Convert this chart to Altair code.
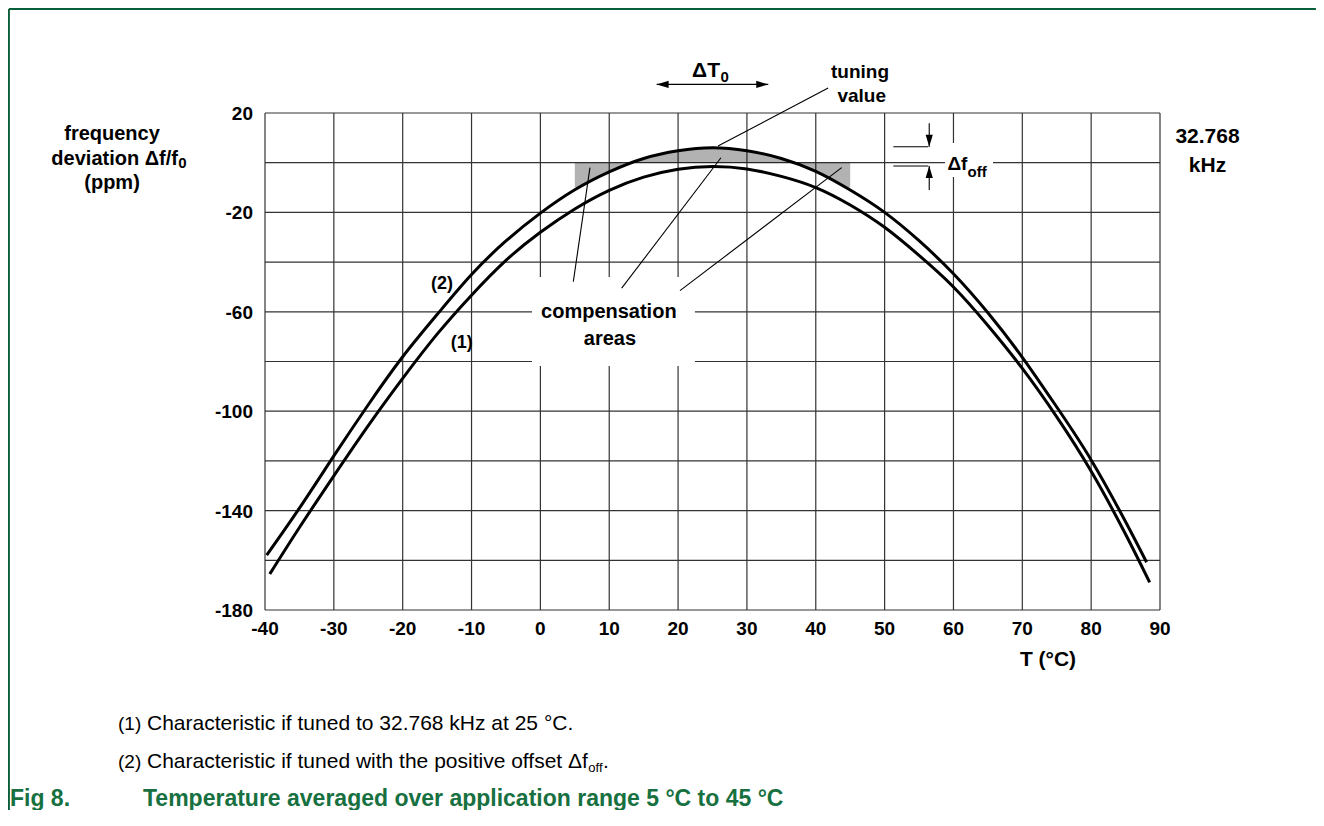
import altair as alt
import pandas as pd

# ---------------- data ----------------
# (1) characteristic if tuned to 32.768 kHz at 25 degC
temp_1 = [-39.3, -35, -30, -25, -20, -15, -10, -5, 0, 5, 10, 15, 20, 25, 30,
          35, 40, 45, 50, 55, 60, 65, 70, 75, 80, 85, 88.5]
dev_1 = [-165.5, -146.8, -126.0, -105.8, -86.8, -69.0, -53.3, -39.3, -28.0,
         -18.6, -11.1, -5.8, -2.6, -1.5, -2.5, -5.5, -10.0, -17.0, -26.0,
         -37.3, -50.0, -65.5, -82.8, -102.3, -124.2, -149.5, -168.9]
# (2) characteristic if tuned with the positive offset
temp_2 = [-39.75, -35, -30, -25, -20, -15, -10, -5, 0, 5, 10, 15, 20, 25, 30,
          35, 40, 45, 50, 55, 60, 65, 70, 75, 80, 85, 88.05]
dev_2 = [-157.9, -139.0, -118.0, -97.4, -78.1, -61.1, -45.0, -31.5, -20.3,
         -10.9, -3.7, 1.7, 4.8, 6.0, 4.8, 1.7, -3.5, -11.0, -20.0, -31.4,
         -44.7, -60.4, -78.3, -98.3, -119.6, -144.5, -160.8]
# compensation areas (grey)
gray_T = [5, 5.5, 8, 10, 13, 15, 20, 25, 30, 35, 37, 40, 42, 44.5, 45]
gray_lo = [-10, -10, -6.1, -3.7, 0, 0, 0, 0, 0, 0, 0, -3.5, -6.0, -10, -10]
gray_hi = [0, 0, 0, 0, 0, 1.7, 4.8, 6.0, 4.8, 1.7, 0, 0, 0, 0, 0]

x_ticks = list(range(-40, 91, 10))
y_grid = list(range(-180, 21, 20))
y_labels = [20, -20, -60, -100, -140, -180]

# ---------------- annotation placement (data units) ----------------
seg_T1 = [4.78, 11.81, 20.28, 41.8, 16.89, 51.26, 51.26, 56.48, 56.48]
seg_v1 = [-47.9, -50.5, -51.5, 30.1, 31.5, 6.44, -1.33, 15.85, -11.0]
seg_T2 = [7.2, 26.23, 43.76, 25.8, 33.1, 56.35, 56.35, 56.48, 56.48]
seg_v2 = [-2.0, 2.0, -2.0, 6.7, 31.5, 6.44, -1.33, 6.44, -1.33]

box_T1 = [-1.22, 58.77]
box_T2 = [22.45, 65.74]
box_v1 = [-46.0, 7.9]
box_v2 = [-81.8, -5.8]

FONT = "Liberation Sans, Arial, sans-serif"
xs = alt.Scale(domain=[-40, 90], nice=False, zero=False)
ys = alt.Scale(domain=[-180, 20], nice=False, zero=False)
GRID = "#333333"


def X(field="T"):
    return alt.X(f"{field}:Q", scale=xs, axis=None)


def Y(field="v"):
    return alt.Y(f"{field}:Q", scale=ys, axis=None)


# grid
grid_x = alt.Chart(pd.DataFrame({"T": x_ticks, "lo": -180, "hi": 20})).mark_rule(
    color=GRID, strokeWidth=1.2
).encode(x=X(), y=Y("lo"), y2="hi:Q")
grid_y = alt.Chart(pd.DataFrame({"v": y_grid, "lo": -40, "hi": 90})).mark_rule(
    color=GRID, strokeWidth=1.2
).encode(y=Y(), x=X("lo"), x2="hi:Q")

# tick labels
xlab = alt.Chart(pd.DataFrame({"T": x_ticks, "v": -180,
                               "label": [str(t) for t in x_ticks]})).mark_text(
    font=FONT, fontSize=19, fontWeight="bold", align="center",
    baseline="alphabetic", dy=25, color="black"
).encode(x=X(), y=Y(), text="label:N")
ylab = alt.Chart(pd.DataFrame({"T": -40, "v": y_labels,
                               "label": [str(v) for v in y_labels]})).mark_text(
    font=FONT, fontSize=19, fontWeight="bold", align="right",
    baseline="alphabetic", dx=-12, dy=7, color="black"
).encode(x=X(), y=Y(), text="label:N")

curves = pd.DataFrame({
    "T": temp_1 + temp_2,
    "v": dev_1 + dev_2,
    "curve": ["1"] * len(temp_1) + ["2"] * len(temp_2),
})
lines = alt.Chart(curves).mark_line(
    interpolate="natural", strokeWidth=3, color="black"
).encode(x=X(), y=Y(), detail="curve:N")

gray = alt.Chart(pd.DataFrame({"T": gray_T, "v": gray_lo, "v2": gray_hi})).mark_area(
    interpolate="monotone", color="black", fillOpacity=0.3
).encode(x=X(), y=Y(), y2="v2:Q")

boxes = alt.Chart(pd.DataFrame({"T": box_T1, "T2": box_T2, "v": box_v1, "v2": box_v2})).mark_rect(
    color="white"
).encode(x=X(), x2="T2:Q", y=Y(), y2="v2:Q")

segs = alt.Chart(pd.DataFrame({"T": seg_T1, "T2": seg_T2, "v": seg_v1, "v2": seg_v2})).mark_rule(
    color="black", strokeWidth=1.1
).encode(x=X(), x2="T2:Q", y=Y(), y2="v2:Q")


def head(T, v, path):
    return alt.Chart(pd.DataFrame({"T": [T], "v": [v]})).mark_point(
        shape=path, size=144, filled=True, color="black", opacity=1, strokeWidth=0
    ).encode(x=X(), y=Y())


heads = [
    head(17.76, 31.5, "M -1 0 L 1 -0.6 L 1 0.6 Z"),
    head(32.23, 31.5, "M 1 0 L -1 -0.6 L -1 0.6 Z"),
    head(56.48, 8.85, "M 0 1 L -0.6 -1 L 0.6 -1 Z"),
    head(56.48, -3.74, "M 0 -1 L -0.6 1 L 0.6 1 Z"),
]


def txt(labels, Ts, vs, size, weight="bold", align="center", color="black"):
    df = pd.DataFrame({"label": labels, "T": Ts, "v": vs})
    return alt.Chart(df).mark_text(
        font=FONT, fontSize=size, fontWeight=weight, align=align,
        baseline="alphabetic", color=color
    ).encode(x=X(), y=Y(), text="label:N")


texts = [
    txt(["tuning", "value"], [46.42, 46.67], [33.96, 24.3], 19),
    txt(["32.768", "kHz"], [96.9, 96.9], [7.8, -3.6], 21),
    txt(["frequency", "(ppm)"], [-62.22, -62.22], [9.1, -10.6], 20),
    txt(["T (°C)"], [73.73], [-202.6], 21),
    txt(["compensation", "areas"], [9.94, 10.1], [-62.6, -73.4], 20),
    txt(["(2)", "(1)"], [-14.29, -11.43], [-50.8, -74.6], 18),
    txt(["deviation Δf/f"], [-52.64], [-0.9], 20, align="right"),
    txt(["ΔT"], [26.09], [34.6], 21, align="right"),
    txt(["Δf"], [62.03], [-2.9], 19, align="right"),
    txt(["0", "0", "off"], [-52.6, 26.16, 62.05], [-2.3, 32.6, -5.6], 15,
        align="left"),
    txt(["(1)", "(2)"], [-61.35, -61.35], [-228.3, -243.6], 19,
        weight="normal", align="left"),
    txt(["Characteristic if tuned to 32.768 kHz at 25 °C.",
         "Characteristic if tuned with the positive offset Δf"],
        [-57.14, -57.14], [-228.3, -243.6],
        21, weight="normal", align="left"),
    txt(["off"], [6.96], [-245.2], 13, weight="normal", align="left"),
    txt(["."], [9.08], [-243.6], 21, weight="normal", align="left"),
    txt(["Fig 8.", "Temperature averaged over application range 5 °C to 45 °C"],
        [-77.04, -57.72], [-258.9, -258.9], 23, align="left", color="#17703f"),
]

frame = alt.Chart(pd.DataFrame({"T": [-77.2, -77.2], "T2": [112.65, -77.2],
                                "v": [61.85, 61.85], "v2": [61.85, -265.0]})).mark_rule(
    color="#0b5e3a", strokeWidth=2
).encode(x=X(), x2="T2:Q", y=Y(), y2="v2:Q")

chart = alt.layer(grid_x, grid_y, gray, boxes, lines, segs, *heads, xlab, ylab,
                  *texts, frame).properties(
    width=895, height=497,
    autosize=alt.AutoSizeParams(type="none"),
    padding={"left": 257, "top": 105, "right": 156, "bottom": 200},
    background="white",
).configure_view(stroke="transparent")

chart.save("out.html", embed_options={"renderer": "svg", "actions": False})
